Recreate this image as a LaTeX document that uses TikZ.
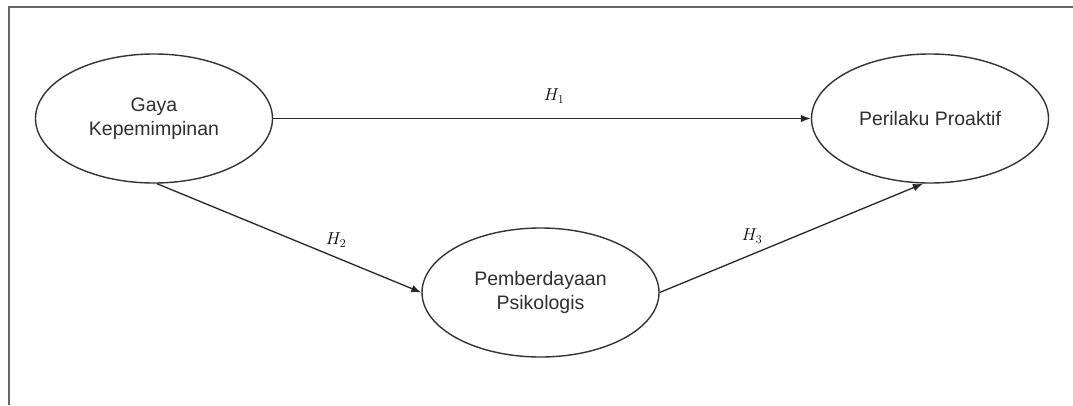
\documentclass[tikz,border=0pt]{standalone}
\usepackage{fontspec}
\setmainfont{Liberation Sans}
\usetikzlibrary{shapes.geometric,arrows.meta}
\definecolor{linec}{HTML}{333333}
\definecolor{textc}{HTML}{2E2E2E}
\begin{document}
\begin{tikzpicture}[x=1pt,y=-1pt,
  construct/.style={ellipse,draw=linec,line width=1.4pt,minimum width=237pt,minimum height=129pt,inner sep=0pt,align=center,text=textc,font=\fontsize{19.5}{24}\selectfont},
  path/.style={draw=black!85,line width=1.3pt,-{Latex[length=10pt,width=7.5pt]}},
  hyp/.style={font=\fontsize{18}{20}\selectfont,inner sep=0pt},
  frame/.style={draw=black!60,line width=2pt}]
\useasboundingbox (0,0) rectangle (1073,405);
\coordinate (ftr) at (1073,6.5);
\coordinate (ftl) at (8.5,6.5);
\coordinate (fbl) at (8.5,405);
\draw[frame] (ftr) -- (ftl) -- (fbl);
\node[construct] (g) at (154,118.5) {Gaya\\Kepemimpinan};
\node[construct] (p) at (930,118.5) {Perilaku Proaktif};
\node[construct] (s) at (540.5,292.5) {Pemberdayaan\\Psikologis};
\draw[path] (g.east) -- (p.west);
\draw[path] ([xshift=3pt]g.south) -- (s.west);
\draw[path] (s.east) -- ([xshift=-7pt]p.south);
\node[hyp] (h1) at (554,96) {$H_1$};
\node[hyp] (h2) at (336,240) {$H_2$};
\node[hyp] (h3) at (752,236) {$H_3$};
\end{tikzpicture}
\end{document}
